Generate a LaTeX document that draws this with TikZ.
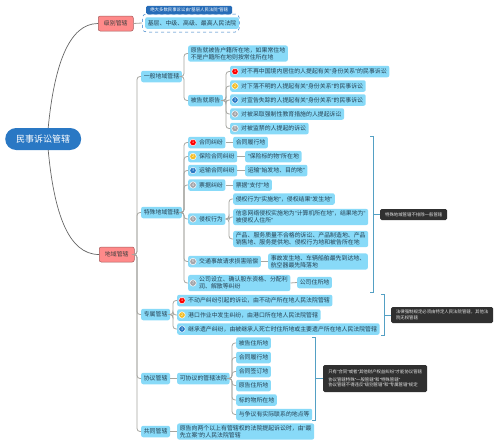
\documentclass[tikz,border=0pt]{standalone}
\usepackage{fontspec}
\setmainfont{Noto Sans CJK SC}
\newfontfamily\quotefont{Liberation Sans}
\newcommand{\ql}{{\quotefont “}}
\newcommand{\qr}{{\quotefont ”}}
\usetikzlibrary{positioning, calc}
\definecolor{rootblue}{RGB}{42, 120, 196}
\definecolor{itemblue}{RGB}{136, 218, 248}
\definecolor{tagred}{RGB}{255, 138, 138}
\definecolor{tagblue}{RGB}{38, 108, 184}
\definecolor{notedark}{RGB}{48, 48, 48}
\definecolor{linkgray}{RGB}{165, 165, 160}
\definecolor{inkblue}{RGB}{38, 66, 84}
\definecolor{markyellow}{RGB}{245, 190, 40}
\definecolor{markgray}{RGB}{165, 165, 170}
\definecolor{fenceblue}{RGB}{84, 160, 196}
\tikzset{
  item/.style={fill=itemblue, rounded corners=2pt, anchor=west, align=left, text=inkblue,
    font=\fontsize{5.9}{7.4}\selectfont, inner xsep=2.6pt, inner ysep=1.6pt, minimum height=11.5pt},
  branchtag/.style={fill=tagred, draw=tagred!65!black, line width=.5pt, rounded corners=2pt, anchor=west,
    text=black!75, font=\fontsize{5.9}{7}\selectfont, minimum width=35pt, minimum height=15pt, inner sep=0pt},
  darknote/.style={fill=notedark, rounded corners=1.5pt, anchor=west, align=left, text=white!90!black,
    font=\itshape\fontsize{4.4}{5.8}\selectfont, inner xsep=3pt, inner ysep=2pt},
  mark/.style={circle, fill=#1, draw=white, line width=.5pt, text=white, inner sep=0pt, minimum size=6.5pt,
    font=\fontsize{3.6}{4}\selectfont},
  link/.style={draw=linkgray, line width=.8pt, rounded corners=3pt},
  trunk/.style={draw=black!60, line width=.7pt},
  fence/.style={draw=fenceblue, line width=.7pt}
}
\newcommand{\gap}{\hspace*{8.4pt}}
\begin{document}
\begin{tikzpicture}[x=1pt, y=-1pt]
  \useasboundingbox (0,0) rectangle (499,447);
  % root and the two red branches
  \node[fill=rootblue, rounded corners=11pt, text=white, font=\fontsize{9}{10}\selectfont, minimum width=76pt, minimum height=22pt, inner sep=0pt, anchor=west] (root) at (5,139) {民事诉讼管辖};
  \node[branchtag] (jibie) at (98,23.5) {级别管辖};
  \node[branchtag] (diyu) at (99,254.5) {地域管辖};
  \draw[trunk] (root.north) ++(5,0) .. controls (54,68) and (68,23.5) .. (jibie.west);
  \draw[trunk] (root.south) ++(5,0) .. controls (54,212) and (68,254.5) .. (diyu.west);

  % level
  \node[draw=rootblue, dashed, line width=.5pt, rounded corners=4pt, fill=white, anchor=west, minimum width=97pt, minimum height=18pt, inner sep=0pt] (jibiebox) at (142,23) {};
  \node[item, minimum width=91pt] (jibieitem) at (145,23) {基层、中级、高级、最高人民法院};
  \node[fill=tagblue, rounded corners=1.5pt, text=white, font=\itshape\fontsize{4.4}{5}\selectfont, anchor=west, minimum width=86pt, minimum height=8.5pt, inner sep=0pt] (jibietag) at (146,10) {绝大多数民事诉讼由\ql 基层人民法院\qr 管辖};
  \draw[link] (jibie.east) -- (jibiebox.west);

  % second level
  \node[item] (yiban) at (141,76.5) {一般地域管辖};
  \node[item] (teshu) at (141,212.5) {特殊地域管辖};
  \node[item] (zhuanshu) at (141,314.5) {专属管辖};
  \node[item] (xieyi) at (141,378.5) {协议管辖};
  \node[item] (gongtong) at (141,431.5) {共同管辖};
  \foreach \kid in {yiban, teshu, zhuanshu, xieyi, gongtong}
    \draw[link] (diyu.east) -- (137,254.5) |- (\kid.west);

  % general
  \node[item] (yuangao) at (188,53.5) {原告就被告户籍所在地，如果常住地\\不是户籍所在地则按常住所在地};
  \node[item] (beigao) at (188,100.5) {被告就原告};
  \node[item] (bg1) at (230,71.5) {\gap 对不再中国境内居住的人提起有关\ql 身份关系\qr 的民事诉讼};
  \node[item] (bg2) at (230,86) {\gap 对下落不明的人提起有关\ql 身份关系\qr 的民事诉讼};
  \node[item] (bg3) at (230,100) {\gap 对宣告失踪的人提起有关\ql 身份关系\qr 的民事诉讼};
  \node[item] (bg4) at (230,114) {\gap 对被采取强制性教育措施的人提起诉讼};
  \node[item] (bg5) at (230,128.5) {\gap 对被监禁的人提起的诉讼};
  \foreach \kid/\col/\num in {bg1/red/1, bg2/markyellow/2, bg3/rootblue/3, bg4/markgray/4, bg5/markgray/5}
    \node[mark=\col] at ($(\kid.west)+(5,0)$) {\num};
  \foreach \kid in {yuangao, beigao}
    \draw[link] (yiban.east) -- (184,76.5) |- (\kid.west);
  \foreach \kid in {bg1, bg2, bg3, bg4, bg5}
    \draw[link] (beigao.east) -- (226,100.5) |- (\kid.west);

  % special
  \node[item] (ht) at (188,142.5) {\gap 合同纠纷};
  \node[item] (bx) at (188,156.5) {\gap 保险合同纠纷};
  \node[item] (ys) at (188,170.5) {\gap 运输合同纠纷};
  \node[item] (pj) at (188,185) {\gap 票据纠纷};
  \node[item] (qq) at (188,219) {\gap 侵权行为};
  \node[item] (jt) at (188,261.5) {\gap 交通事故请求损害赔偿};
  \node[item] (gs) at (188,283) {\gap 公司设立、确认股东资格、分配利\\\gap 润、解散等纠纷};
  \foreach \kid/\col/\num in {ht/red/1, bx/markyellow/2, ys/rootblue/3, pj/markgray/4, qq/markgray/5, jt/markgray/6, gs/markgray/7}
    \node[mark=\col] at ($(\kid.west)+(5,0)$) {\num};
  \foreach \kid in {ht, bx, ys, pj, qq, jt, gs}
    \draw[link] (teshu.east) -- (184,212.5) |- (\kid.west);

  \node[item] (htd) at (233,142.5) {合同履行地};
  \node[item] (bxd) at (245,156.5) {\ql 保险标的物\qr 所在地};
  \node[item] (ysd) at (245,170.5) {运输\ql 始发地、目的地\qr};
  \node[item] (pjd) at (233,185) {票据\ql 支付\qr 地};
  \node[item] (qq1) at (233,199) {侵权行为\ql 实施地\qr ，侵权结果\ql 发生地\qr};
  \node[item] (qq2) at (233,217) {信息网络侵权实施地为\ql 计算机所在地\qr ，结果地为\ql\\被侵权人住所\qr};
  \node[item] (qq3) at (233,239) {产品、服务质量不合格的诉讼、产品制造地、产品\\销售地、服务提供地、侵权行为地和被告所在地};
  \node[item] (jtd) at (268,261.5) {事故发生地、车辆船舶最先到达地、\\航空器最先降落地};
  \node[item] (gsd) at (297,282.5) {公司住所地};
  \foreach \from/\kid in {ht/htd, bx/bxd, ys/ysd, pj/pjd, jt/jtd, gs/gsd}
    \draw[link] (\from.east) -- (\kid.west);
  \foreach \kid in {qq1, qq2, qq3}
    \draw[link] (qq.east) -- (229,219) |- (\kid.west);

  % exclusive
  \node[item] (zs1) at (177,300.5) {\gap 不动产纠纷引起的诉讼，由不动产所在地人民法院管辖};
  \node[item] (zs2) at (177,315) {\gap 港口作业中发生纠纷，由港口所在地人民法院管辖};
  \node[item] (zs3) at (177,329) {\gap 继承遗产纠纷，由被继承人死亡时住所地或主要遗产所在地人民法院管辖};
  \foreach \kid/\col/\num in {zs1/red/1, zs2/markyellow/2, zs3/rootblue/3}
    \node[mark=\col] at ($(\kid.west)+(5,0)$) {\num};
  \foreach \kid in {zs1, zs2, zs3}
    \draw[link] (zhuanshu.east) -- (173,314.5) |- (\kid.west);

  % agreement
  \node[item] (kexy) at (177,378.5) {可协议的管辖法院};
  \draw[link] (xieyi.east) -- (kexy.west);
  \node[item] (xy1) at (236,343) {被告住所地};
  \node[item] (xy2) at (236,357.5) {合同履行地};
  \node[item] (xy3) at (236,371.5) {合同签订地};
  \node[item] (xy4) at (236,385.5) {原告住所地};
  \node[item] (xy5) at (236,400) {标的物所在地};
  \node[item] (xy6) at (236,414.5) {与争议有实际联系的地点等};
  \foreach \kid in {xy1, xy2, xy3, xy4, xy5, xy6}
    \draw[link] (kexy.east) -- (232,378.5) |- (\kid.west);

  % joint
  \node[item] (gt) at (177,431.5) {原告向两个以上有管辖权的法院提起诉讼时，由\ql 最\\先立案\qr 的人民法院管辖};
  \draw[link] (gongtong.east) -- (gt.west);

  % brackets and their dark notes
  \node[darknote, minimum width=67pt, minimum height=11pt, inner ysep=0pt] (teshunote) at (380,214.5) {特殊地域管辖不排除一般管辖};
  \node[darknote, minimum width=102pt, minimum height=16pt, inner ysep=0pt] (zsnote) at (391,315) {法律强制规定必须由特定人民法院管辖，其他法\\院无权管辖};
  \node[darknote, minimum width=104pt, minimum height=27pt, inner ysep=0pt] (xynote) at (323,378.5) {只有\ql 合同\qr 或者\ql 其他财产权益纠纷\qr 才能协议管辖\\[2pt]协议管辖特殊\ql 一般管辖\qr 和\ql 特殊管辖\qr\\协议管辖不得违反\ql 级别管辖\qr 和\ql 专属管辖\qr 规定};
  \coordinate (teshufence) at (373,214.5);
  \coordinate (zsfence) at (384,315);
  \coordinate (xyfence) at (315,378.5);
  \draw[fence] (370,136) -- (373,136) -- (373,292) -- (370,292);
  \draw[fence] (teshufence) -- (teshunote.west);
  \draw[fence] (381,294) -- (384,294) -- (384,335) -- (381,335);
  \draw[fence] (zsfence) -- (zsnote.west);
  \draw[fence] (312,337) -- (315,337) -- (315,420) -- (312,420);
  \draw[fence] (xyfence) -- (xynote.west);
\end{tikzpicture}
\end{document}
